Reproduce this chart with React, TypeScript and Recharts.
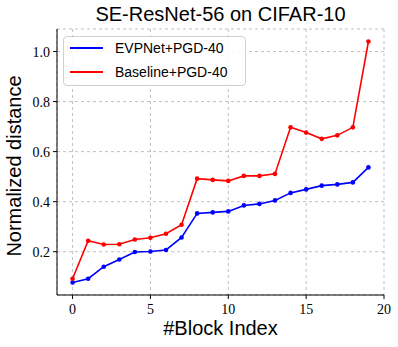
import React from 'react';
import { LineChart, Line, XAxis, YAxis, CartesianGrid } from 'recharts';

const blockIndex = [0, 1, 2, 3, 4, 5, 6, 7, 8, 9, 10, 11, 12, 13, 14, 15, 16, 17, 18, 19];
const evpnet = [0.077, 0.092, 0.14, 0.169, 0.199, 0.201, 0.207, 0.257, 0.353, 0.357, 0.361, 0.385, 0.391, 0.405, 0.435, 0.449, 0.464, 0.469, 0.477, 0.537];
const baseline = [0.092, 0.244, 0.229, 0.23, 0.249, 0.256, 0.272, 0.308, 0.492, 0.487, 0.483, 0.503, 0.503, 0.511, 0.697, 0.676, 0.651, 0.665, 0.697, 1.04];
const xTicks = [0, 5, 10, 15, 20];
const yTicks = [0.2, 0.4, 0.6, 0.8, 1.0];

const data = blockIndex.map((b, i) => ({ block: b, evp: evpnet[i], base: baseline[i] }));

const serif = '"Liberation Serif", "DejaVu Serif", serif';

// serif tick labels, like matplotlib's mathtext ticks
const XTick = (props: any) => {
  const { x, y, payload } = props;
  return (
    <text x={x} y={y + 13} textAnchor="middle" style={{ fontFamily: serif, fontSize: 14 }} fill="#000">
      {payload.value}
    </text>
  );
};

const YTick = (props: any) => {
  const { x, y, payload } = props;
  return (
    <text x={x - 1} y={y + 5} textAnchor="end" style={{ fontFamily: serif, fontSize: 14 }} fill="#000">
      {Number(payload.value).toFixed(1)}
    </text>
  );
};

export default function App() {
  return (
    <div style={{ position: 'relative', width: 398, height: 347, background: '#fff', fontFamily: '"Liberation Sans", Arial, sans-serif' }}>
      <style>{'body{margin:0}'}</style>
      <div style={{ position: 'absolute', left: 57, width: 327, top: 2, textAlign: 'center', fontSize: 20, lineHeight: '24px' }}>
        SE-ResNet-56 on CIFAR-10
      </div>
      <LineChart width={398} height={347} data={data} margin={{ top: 29, right: 14, left: 0, bottom: 0 }}>
        <CartesianGrid stroke="#b0b0b0" strokeDasharray="3 3" strokeWidth={0.8} />
        <XAxis
          dataKey="block"
          type="number"
          domain={[-1, 20]}
          ticks={xTicks}
          height={52}
          tickSize={4}
          stroke="#000"
          tick={<XTick />}
        />
        <XAxis xAxisId="top" orientation="top" dataKey="block" type="number" domain={[-1, 20]} height={0} tick={false} tickLine={false} stroke="#000" />
        <YAxis
          type="number"
          domain={[0.027, 1.09]}
          ticks={yTicks}
          width={57}
          tickSize={4}
          stroke="#000"
          tick={<YTick />}
        />
        <YAxis yAxisId="right" orientation="right" domain={[0.027, 1.09]} width={0} tick={false} tickLine={false} stroke="#000" />
        <Line dataKey="evp" stroke="#0000ff" strokeWidth={1.6} dot={{ r: 2.3, fill: '#0000ff', stroke: '#0000ff', strokeWidth: 0 }} isAnimationActive={false} />
        <Line dataKey="base" stroke="#ff0000" strokeWidth={1.6} dot={{ r: 2.3, fill: '#ff0000', stroke: '#ff0000', strokeWidth: 0 }} isAnimationActive={false} />
      </LineChart>
      <div style={{ position: 'absolute', left: 63, top: 36, width: 181, height: 48, border: '1px solid #d0d0d0', borderRadius: 4, background: 'rgba(255,255,255,0.85)', fontSize: 14 }}>
        <div style={{ position: 'absolute', left: 6, top: 10, width: 33, height: 2, background: '#0000ff' }} />
        <div style={{ position: 'absolute', left: 51, top: 2, lineHeight: '18px' }}>EVPNet+PGD-40</div>
        <div style={{ position: 'absolute', left: 6, top: 34, width: 33, height: 2, background: '#ff0000' }} />
        <div style={{ position: 'absolute', left: 51, top: 26, lineHeight: '18px' }}>Baseline+PGD-40</div>
      </div>
      <div style={{ position: 'absolute', left: 57, width: 327, top: 316, textAlign: 'center', fontSize: 20, lineHeight: '24px' }}>
        #Block Index
      </div>
      <div style={{ position: 'absolute', left: 14, top: 166, width: 0, height: 0 }}>
        <div style={{ position: 'absolute', transform: 'translate(-50%, -50%) rotate(-90deg)', whiteSpace: 'nowrap', fontSize: 20, lineHeight: '24px' }}>
          Normalized distance
        </div>
      </div>
    </div>
  );
}
